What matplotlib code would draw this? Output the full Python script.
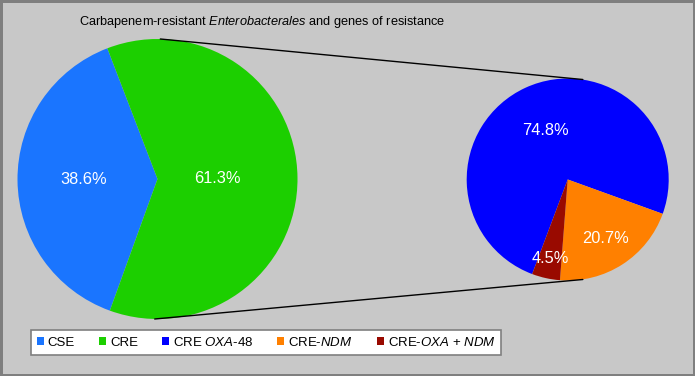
import matplotlib.pyplot as plt
from matplotlib.patches import ConnectionPatch
import numpy as np

plt.rcParams['font.family'] = ['Liberation Sans', 'DejaVu Sans']
plt.rcParams['mathtext.fontset'] = 'custom'
plt.rcParams['mathtext.it'] = 'Liberation Sans:italic'
plt.rcParams['mathtext.rm'] = 'Liberation Sans'

# data
main_labels = ["CSE", "CRE"]
main_values = [38.6, 61.3]
gene_labels = ["CRE $\\mathit{OXA}$-$\\mathit{48}$", "CRE-$\\mathit{NDM}$", "CRE-$\\mathit{OXA}$ + $\\mathit{NDM}$"]
gene_values = [74.8, 20.7, 4.5]

main_colors = ["#1a75ff", "#1ccf00"]
gene_colors = ["#0000ff", "#ff8000", "#990a00"]

W, H = 695, 376
fig = plt.figure(figsize=(W / 100, H / 100), dpi=100, facecolor="#c8c8c8",
                 edgecolor="#7f7f7f", linewidth=2.5)


def px_axes(cx, cy, r):
    return fig.add_axes([(cx - r) / W, (H - cy - r) / H, 2 * r / W, 2 * r / H])


def draw_pie(ax, values, colors, start, dists):
    wedges, _ = ax.pie(values, colors=colors, startangle=start, counterclock=False,
                       wedgeprops=dict(linewidth=0))
    for w, v, d in zip(wedges, values, dists):
        ang = np.deg2rad((w.theta1 + w.theta2) / 2)
        ax.text(d * np.cos(ang), d * np.sin(ang), f"{v}%", color="white",
                fontsize=11.8, ha="center", va="center")
    ax.set_xlim(-1, 1)
    ax.set_ylim(-1, 1)
    ax.set_aspect("equal")
    ax.axis("off")
    return wedges


ax1 = px_axes(157.5, 179, 140)
ax2 = px_axes(567.7, 179.5, 101)

w1 = draw_pie(ax1, main_values, main_colors, 250.1, [0.53, 0.43])
w2 = draw_pie(ax2, gene_values, gene_colors, 249.4, [0.53, 0.69, 0.8])

# connector lines
for y in (1, -1):
    con = ConnectionPatch(xyA=(0.02 * y, y), coordsA=ax1.transData,
                          xyB=(0.15, 0.99 * y), coordsB=ax2.transData,
                          color="black", linewidth=1)
    fig.add_artist(con)

fig.text(262 / W, 1 - 22 / H, "Carbapenem-resistant $\\mathit{Enterobacterales}$ and genes of resistance",
         ha="center", va="center", fontsize=9.2)

leg = fig.legend(w1 + w2, main_labels + gene_labels, ncol=5, loc="center left",
                 bbox_to_anchor=(30.7 / W, 1 - 342.5 / H), frameon=True, fancybox=False,
                 edgecolor="#7f7f7f", framealpha=1, fontsize=9.5, handlelength=0.55,
                 handleheight=0.55, handletextpad=0.3, columnspacing=1.8, borderpad=0.45,
                 borderaxespad=0)
leg.get_frame().set_linewidth(1.2)

fig.savefig("out.png", dpi=100)
